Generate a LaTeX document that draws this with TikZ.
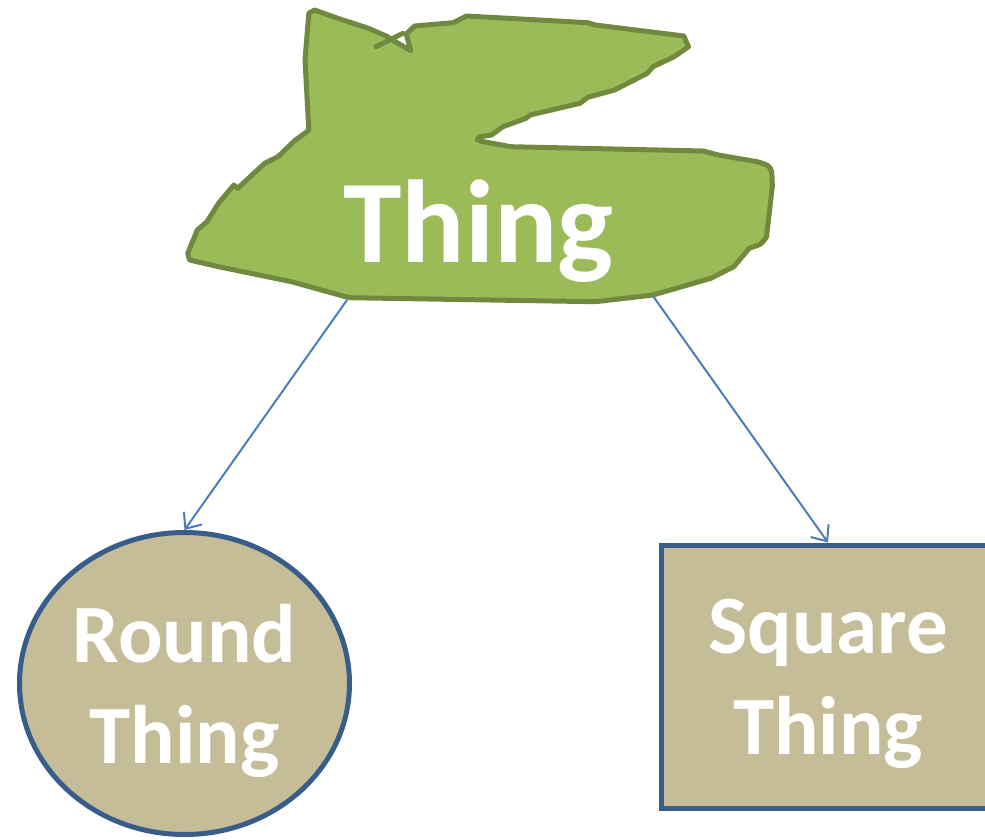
\documentclass[tikz,border=0pt]{standalone}
\usepackage{fontspec}
\setmainfont{Carlito}
\usetikzlibrary{shapes.geometric,arrows.meta}
\definecolor{blobfill}{HTML}{9BBB59}
\definecolor{blobline}{HTML}{71893F}
\definecolor{tanfill}{HTML}{C4BD97}
\definecolor{navyline}{HTML}{385D8A}
\definecolor{arrowblue}{HTML}{4A7EBB}
\begin{document}
\begin{tikzpicture}[x=1pt,y=-1pt,
    blob/.style={fill=blobfill,draw=blobline,line width=5pt,line join=round,line cap=round},
    toplabel/.style={text=white,inner sep=0pt,font=\fontsize{118}{118}\selectfont\bfseries},
    kind/.style={fill=tanfill,draw=navyline,line width=5pt,text=white,align=center,inner sep=0pt,
      text depth=0pt,font=\fontsize{83}{101}\selectfont\bfseries},
    link/.style={draw=arrowblue,line width=2pt,-{Straight Barb[length=13pt,width=22pt]}}]
  \useasboundingbox (0,0) rectangle (985,839);
  \draw[blob] (314.6,10) -- (337.7,18.3) -- (368.5,28.3) -- (387.7,36.7) -- (389.6,38.3)
    -- (410.8,50.7) -- (406.2,34) -- (414.6,26) -- (453,22.7) -- (466.5,16)
    -- (587.7,22.7) -- (595.4,25) -- (683.8,36) -- (688.5,46.7) -- (674.2,56.7)
    -- (653,66.7) -- (647.3,73.3) -- (614.6,90) -- (587.7,97.3) -- (580,103.3)
    -- (530,115) -- (526,118.3) -- (503,126.7) -- (491.5,135) -- (480,136.7)
    .. controls (476,140) .. (483.8,141.7) -- (510.8,146.7) -- (703,151) -- (718.5,155)
    -- (757,161.7) .. controls (772,166) .. (772.3,186.7) -- (766.5,236.7)
    .. controls (762,244) .. (749.2,248.3) -- (733.8,266.7) -- (710.8,278.3) -- (653,295)
    -- (595.4,301.7) -- (349,297.7) -- (291.5,281.7) -- (218.5,266.7) -- (189.6,260)
    -- (187.7,253.3) -- (197.3,230) -- (207,221.7) -- (218.5,203.3) -- (233.8,185)
    -- (237.7,188.3) -- (264.6,163.3) -- (278,156.7) -- (295.4,140) -- (307,131.7)
    -- (308.8,130) -- (305,60) -- (308.8,13.3) -- cycle;
  \draw[blob] (376,46.7) -- (403,33.3);
  \node[toplabel,anchor=base] (thing) at (478.5,262) {Thing};
  \coordinate (leftfoot) at (347,300);
  \coordinate (rightfoot) at (653,296);
  \node[kind,ellipse,minimum width=330pt,minimum height=302pt] (round) at (184.5,683.5) {Round\\Thing};
  \node[kind,rectangle,minimum width=334pt,minimum height=263pt] (square) at (828,676.5) {Square\\Thing};
  \draw[link] (leftfoot) -- (round.north);
  \draw[link] (rightfoot) -- (square.north);
\end{tikzpicture}
\end{document}
